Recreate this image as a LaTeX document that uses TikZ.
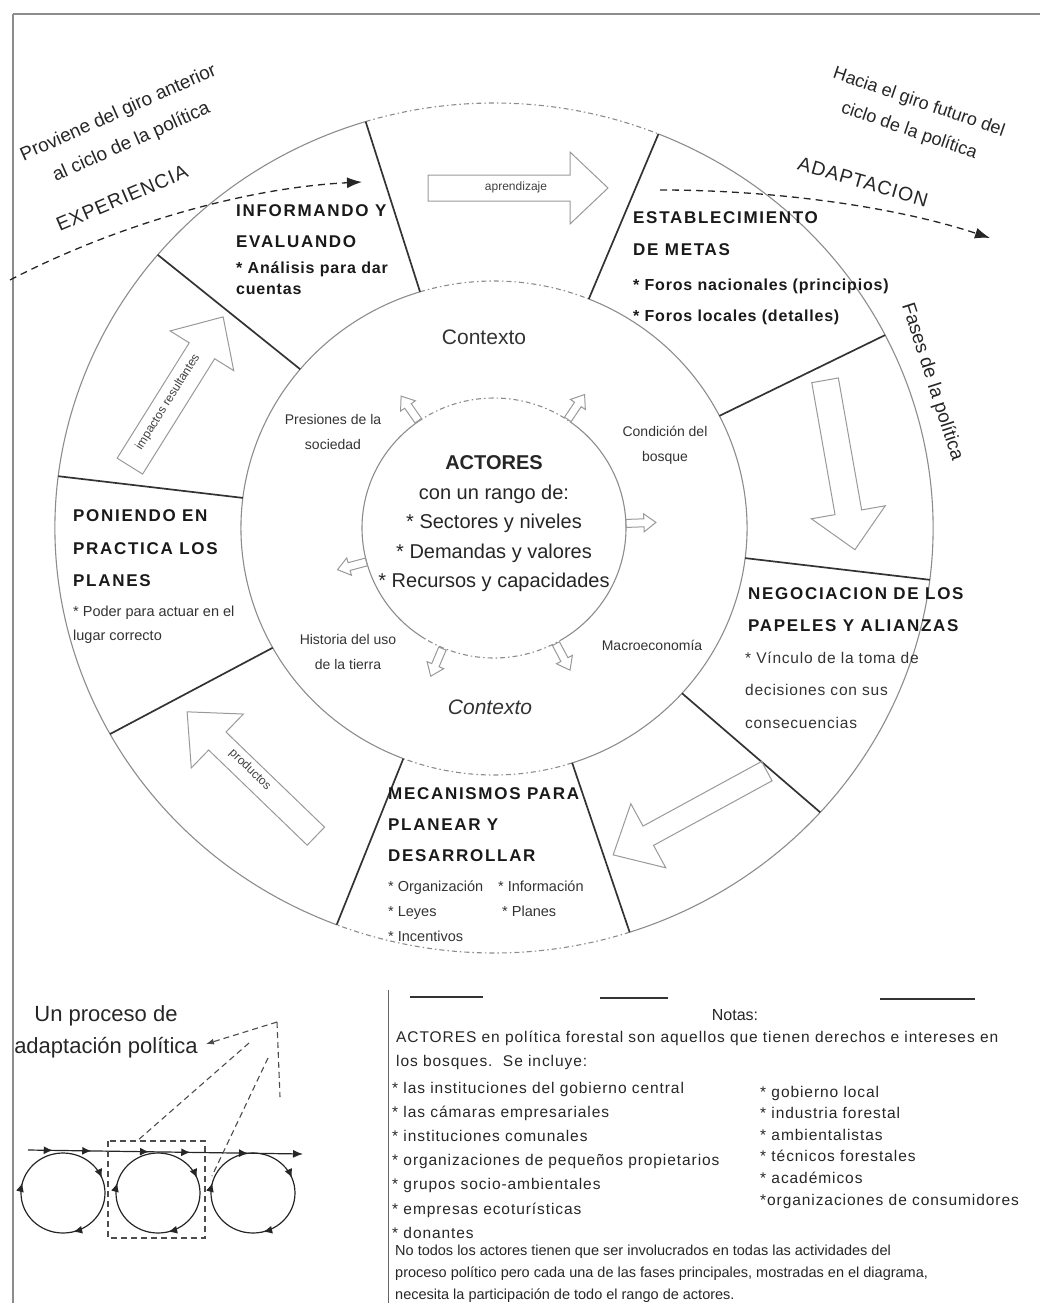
\documentclass[tikz,border=0pt]{standalone}
\usepackage{fontspec}
\setmainfont{Liberation Sans}
\newfontfamily\headfont{Liberation Sans}[LetterSpace=10]
\newfontfamily\widefont{Liberation Sans}[LetterSpace=5]
\newfontfamily\notefont{Liberation Sans}[LetterSpace=6]
\usepackage{tikz}
\usetikzlibrary{calc,positioning,arrows.meta,decorations.markings}
\tikzset{>=Latex}

% hollow block arrow: centre, angle, length, shaft, head width, head length
\newcommand{\hollowarrow}[6]{%
  \begin{scope}[shift={#1},rotate=#2]
    \draw[fatarrow] (-#3/2,-#4/2) -- ({#3/2-#6},-#4/2) -- ({#3/2-#6},-#5/2)
      -- (#3/2,0) -- ({#3/2-#6},#5/2) -- ({#3/2-#6},#4/2) -- (-#3/2,#4/2) -- cycle;
  \end{scope}}

\tikzset{
  ring/.style={draw=black!45, line width=1.1pt},
  ringdash/.style={ring, dash pattern=on 5pt off 3pt on 1.5pt off 3pt},
  divider/.style={draw=black!80, line width=1.7pt},
  fatarrow/.style={draw=black!40, line width=1pt},
  flow/.style={draw=black!85, line width=1.3pt, dash pattern=on 7pt off 5pt,
    -{Latex[length=15pt,width=11pt]}},
  head/.style={font=\headfont\bfseries\fontsize{17}{31}\selectfont, align=left,
    anchor=north west, inner sep=0pt, text=black!90},
  bulbold/.style={font=\widefont\bfseries\fontsize{16}{21}\selectfont, align=left,
    anchor=north west, inner sep=0pt, text=black!90},
  bul/.style={font=\widefont\fontsize{15.5}{32.5}\selectfont, align=left,
    anchor=north west, inner sep=0pt, text=black!80},
  small/.style={font=\fontsize{14.5}{24.5}\selectfont, align=left,
    anchor=north west, inner sep=0pt, text=black!80},
  ctx/.style={font=\fontsize{14}{25}\selectfont, align=center, inner sep=0pt, text=black!80},
  handtext/.style={font=\fontsize{19}{34}\selectfont, align=center, inner sep=0pt, text=black!85},
  arrtext/.style={font=\fontsize{12}{14}\selectfont, inner sep=0pt, text=black!75},
  loopc/.style={draw=black!85, line width=1.2pt, postaction={decorate},
    decoration={markings,
      mark=at position 0.21 with {\arrow{Latex[length=9pt,width=8pt]}},
      mark=at position 0.54 with {\arrow{Latex[length=9pt,width=8pt]}},
      mark=at position 0.94 with {\arrow{Latex[length=9pt,width=8pt]}}}},
  topline/.style={draw=black!85, line width=1.2pt, -{Latex[length=10pt,width=8pt]},
    postaction={decorate},
    decoration={markings,
      mark=at position 0.09 with {\arrow{Latex[length=9pt,width=8pt]}},
      mark=at position 0.23 with {\arrow{Latex[length=9pt,width=8pt]}},
      mark=at position 0.44 with {\arrow{Latex[length=9pt,width=8pt]}},
      mark=at position 0.59 with {\arrow{Latex[length=9pt,width=8pt]}},
      mark=at position 0.80 with {\arrow{Latex[length=9pt,width=8pt]}}}},
  zoomline/.style={draw=black!70, line width=1.1pt, dash pattern=on 6pt off 4pt},
  note/.style={font=\notefont\fontsize{15.5}{24.2}\selectfont, align=left,
    anchor=north west, inner sep=0pt, text=black!85},
}

\begin{document}
\begin{tikzpicture}[x=1pt,y=-1pt]
\useasboundingbox (0,0) rectangle (1040,1303);
\coordinate (C) at (494,528);

% edges of the page
\draw[black!45, line width=2pt] (13,14) -- (13,1303);
\draw[black!45, line width=2pt] (13,14) -- (1040,14);

% rings
\foreach \a/\b/\st in {-107/-68/ringdash, -68/72/ring, 72/111/ringdash, 111/253/ring}
{
  \draw[\st] ($(C)+(\a:439 and 425)$) arc[start angle=\a, end angle=\b, x radius=439, y radius=425];
  \draw[\st] ($(C)+(\a:253 and 247)$) arc[start angle=\a, end angle=\b, x radius=253, y radius=247];
}
\foreach \a/\b/\st in {-125/-55/ringdash, -55/58/ring, 58/122/ringdash, 122/235/ring}
  \draw[\st] ($(C)+(\a:132 and 130)$) arc[start angle=\a, end angle=\b, x radius=132, y radius=130];

% phase dividers
\foreach \a in {-107,-68,-27,7,42,72,111,151,187,220}
  \draw[divider] ($(C)+(\a:253 and 247)$) -- ($(C)+(\a:439 and 425)$);

% big arrows between phases
\hollowarrow{(518,188)}{0}{180}{26}{72}{38}
\hollowarrow{(840,465)}{-80}{172}{27}{75}{38}
\hollowarrow{(690,813)}{-151.4}{175}{22}{73}{40}
\hollowarrow{(251.5,774)}{136}{179}{25}{75}{42}
\hollowarrow{(176.5,391.5)}{58}{176}{30}{75}{40}
\node[arrtext] (apr) at (516,187) {aprendizaje};
\node[arrtext, rotate=-44] (prod) at (250,770) {productos};
\node[arrtext, rotate=58] (imp) at (168,402) {impactos resultantes};

% small arrows out of the actors
\foreach \t/\r in {-125/125, -56/56, -2/2, 165/195, 113/247, 62/298}
{
  \hollowarrow{($(C)+(\t:147 and 146)$)}{\r}{30}{8}{18}{12}
}

% cycle in and out
\coordinate (exp-s) at (10,280);
\coordinate (exp-e) at (362,182);
\coordinate (ada-s) at (660,190);
\coordinate (ada-e) at (990,238);
\draw[flow] (exp-s) .. controls (110,228) and (240,188) .. (exp-e);
\draw[flow] (ada-s) .. controls (780,190) and (900,208) .. (ada-e);

\node[handtext, rotate=24, font=\fontsize{19}{32}\selectfont] (prov) at (125,128) {Proviene del giro anterior\\al ciclo de la política};
\node[handtext, rotate=23, font=\widefont\fontsize{19.5}{22}\selectfont] (exper) at (122,198) {EXPERIENCIA};
\node[handtext, rotate=-19, font=\fontsize{18}{30}\selectfont] (hacia) at (914,117) {Hacia el giro futuro del\\ciclo de la política};
\node[handtext, rotate=-16, font=\widefont\fontsize{19.5}{22}\selectfont] (adap) at (863,182) {ADAPTACION};
\node[handtext, rotate=-72] (fases) at (932,382) {Fases de la política};

% phases
\node[head] (inf-h) at (236,204.8) {INFORMANDO Y\\EVALUANDO};
\node[bulbold] (inf-b) at (236,261.5) {* Análisis para dar\\cuentas};
\node[head, font=\headfont\bfseries\fontsize{17}{32}\selectfont] (est-h) at (633,211.8) {ESTABLECIMIENTO\\DE METAS};
\node[bulbold, font=\widefont\bfseries\fontsize{16}{31.5}\selectfont] (est-b) at (633,278.3) {* Foros nacionales (principios)\\* Foros locales (detalles)};
\node[head, font=\headfont\bfseries\fontsize{17}{32}\selectfont] (neg-h) at (748,587.8) {NEGOCIACION DE LOS\\PAPELES Y ALIANZAS};
\node[bul] (neg-b) at (745,651.4) {* Vínculo de la toma de\\decisiones con sus\\consecuencias};
\node[head] (mec-h) at (388,787.8) {MECANISMOS PARA\\PLANEAR Y\\DESARROLLAR};
\node[small, font=\fontsize{14.5}{25}\selectfont] (mec-b1) at (388,881) {* Organización\\* Leyes\\* Incentivos};
\node[small, font=\fontsize{14.5}{25}\selectfont] (mec-b2) at (498,881) {* Información\\\ * Planes};
\node[head, font=\headfont\bfseries\fontsize{17}{32.5}\selectfont] (pon-h) at (73,509.8) {PONIENDO EN\\PRACTICA LOS\\PLANES};
\node[small, font=\fontsize{14.5}{24}\selectfont] (pon-b) at (73,605.6) {* Poder para actuar en el\\lugar correcto};

% context ring
\node[font=\fontsize{21}{24}\selectfont, text=black!80] (ctx-t) at (484,337) {Contexto};
\node[font=\itshape\fontsize{21}{24}\selectfont, text=black!80] (ctx-b) at (490,707) {Contexto};
\node[ctx] (pres) at (333,432) {Presiones de la\\sociedad};
\node[ctx] (cond) at (665,445) {Condición del\\bosque};
\node[ctx] (hist) at (348,652) {Historia del uso\\de la tierra};
\node[ctx] (macro) at (652,645) {Macroeconomía};

% actors
\node[font=\fontsize{20}{29.5}\selectfont, align=center, anchor=north, inner sep=0pt, text=black!85]
  (act) at (494,455.5) {{\bfseries ACTORES}\\con un rango de:\\* Sectores y niveles\\* Demandas y valores\\* Recursos y capacidades};

% small adaptation picture
\node[font=\fontsize{22}{32}\selectfont, align=center, text=black!85, inner sep=0pt] (proc) at (106,1032) {Un proceso de\\adaptación política};
\foreach \x [count=\i] in {63,158,253}
{
  \coordinate (loop-\i) at (\x,1193);
  \draw[loopc] (loop-\i) circle[x radius=42, y radius=40];
}
\coordinate (ln-s) at (28,1150);
\coordinate (ln-e) at (303,1154);
\draw[topline] (ln-s) -- (ln-e);
\coordinate (ap) at (277,1022);
\coordinate (ap-t) at (206,1044);
\coordinate (ap-b) at (249,1043);
\coordinate (ap-c) at (268,1058);
\coordinate (ap-d) at (280,1097);
\coordinate (rect-a) at (137,1141);
\coordinate (rect-b) at (212,1176);
\draw[zoomline] (108,1141) rectangle (205,1238);
\draw[zoomline, -{Latex[length=8pt,width=6pt]}] (ap) -- (ap-t);
\draw[zoomline] (ap-b) -- (rect-a);
\draw[zoomline] (ap-c) -- (rect-b);
\draw[zoomline] (ap) -- (ap-d);

% notes
\draw[black!60, line width=1pt] (388,990) -- (388,1303);
\draw[black!80, line width=2pt] (410,997) -- (483,997);
\draw[black!80, line width=2pt] (600,998) -- (668,998);
\draw[black!80, line width=2pt] (880,999) -- (975,999);
\node[font=\fontsize{16}{18}\selectfont, text=black!85] (notas) at (735,1015) {Notas:};
\node[note] (n-intro) at (396,1030.6) {ACTORES en política forestal son aquellos que tienen derechos e intereses en\\los bosques.\ \ Se incluye:};
\node[note] (n-left) at (392,1081.7) {* las instituciones del gobierno central\\* las cámaras empresariales\\* instituciones comunales\\* organizaciones de pequeños propietarios\\* grupos socio-ambientales\\* empresas ecoturísticas\\* donantes};
\node[note, font=\notefont\fontsize{15.5}{21.6}\selectfont] (n-right) at (760,1085.7) {* gobierno local\\* industria forestal\\* ambientalistas\\* técnicos forestales\\* académicos\\*organizaciones de consumidores};
\node[note, font=\fontsize{14.5}{22}\selectfont] (n-end) at (395,1245) {No todos los actores tienen que ser involucrados en todas las actividades del\\proceso político pero cada una de las fases principales, mostradas en el diagrama,\\necesita la participación de todo el rango de actores.};
\end{tikzpicture}
\end{document}
